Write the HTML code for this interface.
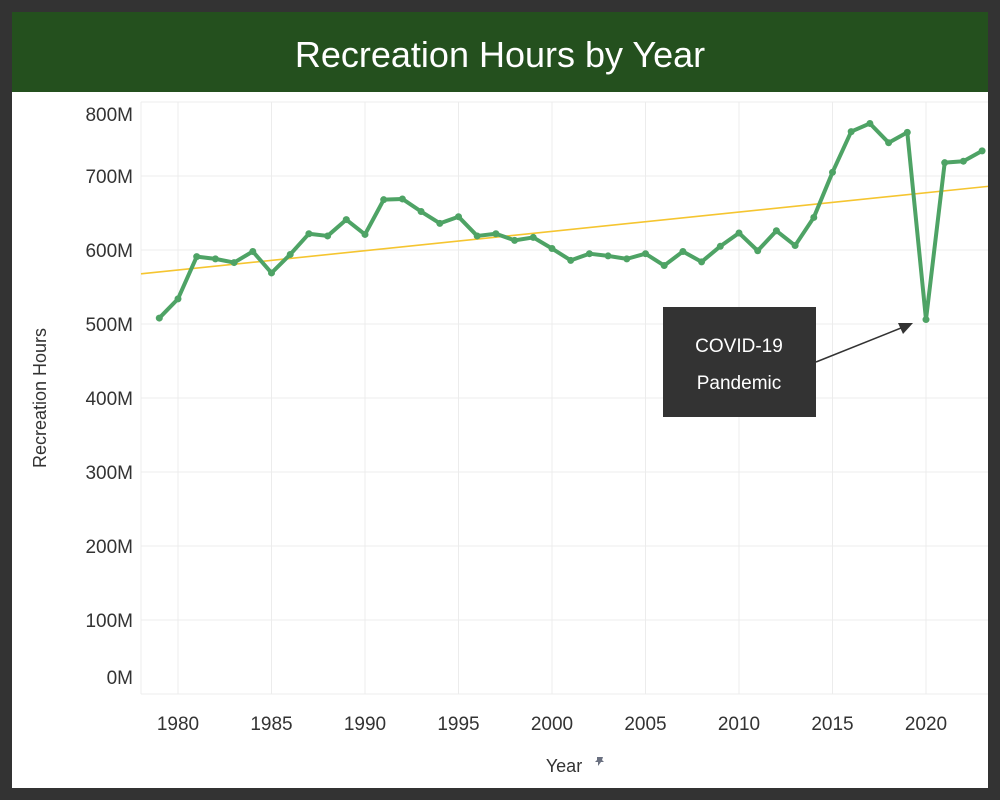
<!DOCTYPE html>
<html><head><meta charset="utf-8"><style>
body{margin:0;width:1000px;height:800px;background:#333;font-family:"Liberation Sans",sans-serif;overflow:hidden}
#card{position:absolute;left:12px;top:12px;width:976px;height:776px;background:#fff}
#title{position:absolute;left:0;top:0;width:976px;height:80px;background:#24501e;color:#fff;font-size:36px;text-align:center;line-height:86px}
svg{position:absolute;left:0;top:0}
</style></head><body>
<div id="card">
<div id="title">Recreation Hours by Year</div>
</div>
<svg id="chart" width="1000" height="800"></svg>
<script>
const years=[1979,1980,1981,1982,1983,1984,1985,1986,1987,1988,1989,1990,1991,1992,1993,1994,1995,1996,1997,1998,1999,2000,2001,2002,2003,2004,2005,2006,2007,2008,2009,2010,2011,2012,2013,2014,2015,2016,2017,2018,2019,2020,2021,2022,2023];
const hours=[508,534,591,588,583,598,569,594,622,619,641,621,668,669,652,636,645,619,622,613,617,602,586,595,592,588,595,579,598,584,605,623,599,626,606,644,705,760,771,745,759,506,718,720,734];
const yTicks=[0,100,200,300,400,500,600,700,800];
const yTickLabels=["0M","100M","200M","300M","400M","500M","600M","700M","800M"];
const xTicks=[1980,1985,1990,1995,2000,2005,2010,2015,2020];
const NS="http://www.w3.org/2000/svg";
const svg=document.getElementById('chart');
const X=y=>178+(y-1980)*(926-178)/40;
const Y=v=>694-v*(694-102)/800;
function mk(t,a,p){const e=document.createElementNS(NS,t);for(const k in a)e.setAttribute(k,a[k]);(p||svg).appendChild(e);return e;}
const L=141,R=988;
mk('line',{x1:L,y1:102,x2:L,y2:694,stroke:'#ececec'});
yTicks.forEach((v,i)=>{
 const g=mk('line',{x1:L,x2:R,y1:Y(v),y2:Y(v),stroke:'#ececec'});
 
 
 let ty=Y(v)+7; if(v===800) ty=Y(v)+19; if(v===0) ty=Y(v)-10;
 const t=mk('text',{x:133,y:ty,'text-anchor':'end','font-size':19,fill:'#333'});
 t.textContent=yTickLabels[i];
 
 
});
xTicks.forEach(yr=>{
 const g=mk('line',{x1:X(yr),x2:X(yr),y1:102,y2:694,stroke:'#ececec'});
 
 
 const t=mk('text',{x:X(yr),y:730,'text-anchor':'middle','font-size':19,fill:'#333'});
 t.textContent=yr;
 
 
});
const n=years.length;const mx=years.reduce((a,b)=>a+b)/n,my=hours.reduce((a,b)=>a+b)/n;
let sxy=0,sxx=0;years.forEach((x,i)=>{sxy+=(x-mx)*(hours[i]-my);sxx+=(x-mx)*(x-mx);});
const slope=sxy/sxx;const yr0=1980+(L-178)*40/(926-178),yr1=1980+(R-178)*40/(926-178);
const tr=mk('line',{x1:L,x2:R,y1:Y(my+slope*(yr0-mx)),y2:Y(my+slope*(yr1-mx)),stroke:'#f5c530','stroke-width':1.6});


const pl=mk('polyline',{points:years.map((y,i)=>X(y)+','+Y(hours[i])).join(' '),fill:'none',stroke:'#4ea365','stroke-width':4,'stroke-linejoin':'round'});


years.forEach((y,i)=>{
 const c=mk('circle',{cx:X(y),cy:Y(hours[i]),r:3.5,fill:'#4ea365'});
 
 
});
const yt=mk('text',{x:46,y:398,'text-anchor':'middle','font-size':18,fill:'#333',transform:'rotate(-90 46 398)'});
yt.textContent='Recreation Hours';


const xt=mk('text',{x:564,y:772,'text-anchor':'middle','font-size':18,fill:'#333'});
xt.textContent='Year';


const pin=mk('path',{d:'M597,757 l6,0 l-1,3 l2,2 l-3,0 l-3,4 l0,-4 l-3,0 l2,-2 z',fill:'#6a7080'});


const ar=mk('line',{x1:816,y1:362,x2:906,y2:326,stroke:'#333','stroke-width':1.5});


const ah=mk('polygon',{points:'913,323 898,323 903,334',fill:'#333'});


const bx=mk('rect',{x:663,y:307,width:153,height:110,fill:'#333'});


const t1=mk('text',{x:739,y:352,'text-anchor':'middle','font-size':19,fill:'#fff'});
t1.textContent='COVID-19';


const t2=mk('text',{x:739,y:389,'text-anchor':'middle','font-size':19,fill:'#fff'});
t2.textContent='Pandemic';


</script>
</body></html>
